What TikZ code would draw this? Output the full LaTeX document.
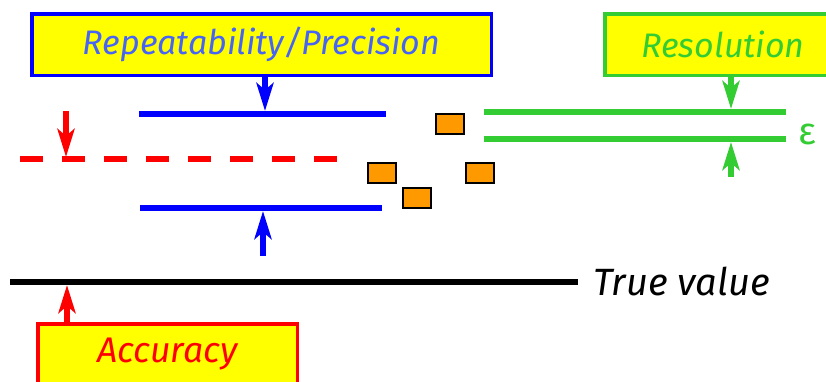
\documentclass[tikz,border=0pt]{standalone}
\usepackage[rgb]{xcolor}
\usepackage{fontspec}
\setmainfont{Fira Sans}
\usetikzlibrary{arrows.meta}

\definecolor{boxyellow}{RGB}{255,255,0}
\definecolor{precblue}{RGB}{0,0,255}
\definecolor{precbluetext}{RGB}{70,100,245}
\definecolor{resgreen}{RGB}{51,204,51}
\definecolor{accred}{RGB}{255,0,0}
\definecolor{squareorange}{RGB}{255,153,0}

\begin{document}
\begin{tikzpicture}[x=0.5pt, y=-0.5pt,
 labelbox/.style={draw, line width=1.8pt, fill=boxyellow, minimum height=30.8pt,
   font=\fontsize{17}{20}\selectfont\itshape},
 bar/.style={line width=3pt},
 pointer/.style={line width=3pt, -{Stealth[length=14pt, width=8.5pt, inset=3.5pt]}}]

\useasboundingbox (0,0) rectangle (826,381);
\clip (0,0) rectangle (826,381);

% the three labels
\path
(261.5,44.5) node (precbox) [labelbox, draw=precblue, text=precbluetext, minimum width=229.8pt] {Repeatability/Precision}
(723,44.5) node (resbox) [labelbox, draw=resgreen, text=resgreen, minimum width=118.3pt] {Resolution}
(167.5,354.5) node (accbox) [labelbox, draw=accred, text=accred, minimum width=129.8pt,
   font=\fontsize{17.8}{20}\selectfont\itshape] {Accuracy};

% true value line
\path
(10,282) coordinate (trueleft)
(578,282) coordinate (trueright);
\draw[bar, black] (trueleft) -- (trueright);
\path
(593,295) node (truevaluetext) [anchor=base west, inner sep=0pt, font=\fontsize{19}{22}\selectfont\itshape] {True value};

% spread of the measurements
\path
(139,114) coordinate (preclefttop)
(386,114) coordinate (precrighttop)
(140,208) coordinate (precleftbottom)
(382,208) coordinate (precrightbottom);
\draw[bar, precblue] (preclefttop) -- (precrighttop);
\draw[bar, precblue] (precleftbottom) -- (precrightbottom);
\path
(265,111) coordinate (prectoptip)
(263,211) coordinate (precbottomtip)
(263,256) coordinate (precbottomtail);
\draw[pointer, precblue] (precbox.south -| prectoptip) -- (prectoptip);
\draw[pointer, precblue] (precbottomtail) -- (precbottomtip);

% mean of the measurements
\path
(20,159) coordinate (meanleft)
(337,159) coordinate (meanright);
\draw[bar, accred, dash pattern=on 11.5pt off 9.5pt] (meanleft) -- (meanright);
\path
(66,111) coordinate (meantail)
(66,157) coordinate (meantip)
(67,285) coordinate (truetip);
\draw[pointer, accred] (meantail) -- (meantip);
\draw[pointer, accred] (accbox.north -| truetip) -- (truetip);

% measured values
\foreach \cx/\cy in {450/124, 382/173, 417/198, 480/173}
 {
 \draw[fill=squareorange, line width=1pt] (\cx-14,\cy-10) rectangle (\cx+14,\cy+10);
 }

% smallest step
\path
(484,112) coordinate (stepleftupper)
(786,112) coordinate (steprightupper)
(484,139) coordinate (stepleftlower)
(786,139) coordinate (steprightlower);
\draw[bar, resgreen] (stepleftupper) -- (steprightupper);
\draw[bar, resgreen] (stepleftlower) -- (steprightlower);
\path
(731,109) coordinate (stepuppertip)
(731,142) coordinate (steplowertip)
(731,177) coordinate (steplowertail);
\draw[pointer, resgreen] (resbox.south -| stepuppertip) -- (stepuppertip);
\draw[pointer, resgreen] (steplowertail) -- (steplowertip);
\path
(807,134) node (epsilontext) [text=resgreen, inner sep=0pt, font=\fontsize{19}{22}\selectfont] {ε};

\end{tikzpicture}
\end{document}
